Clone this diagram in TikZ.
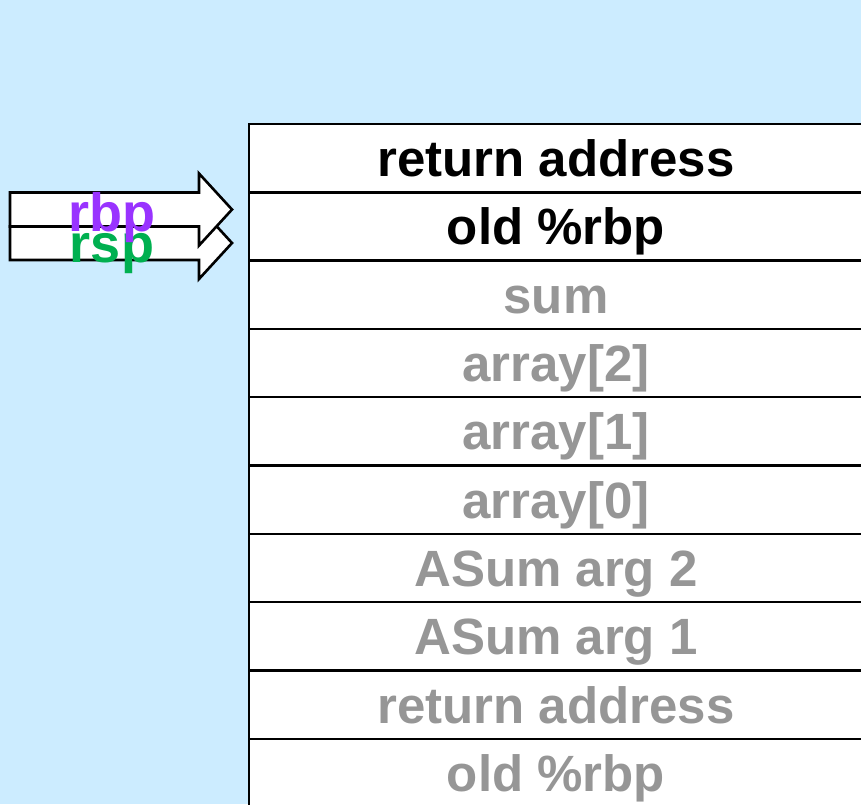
\documentclass[tikz,border=0pt]{standalone}
\usepackage{fontspec}
\setmainfont{Liberation Sans}
\usetikzlibrary{positioning}
\definecolor{bgblue}{RGB}{204,236,255}
\definecolor{usedgray}{RGB}{150,150,150}
\definecolor{rbpcol}{RGB}{153,51,255}
\definecolor{rspcol}{RGB}{0,176,80}
\tikzset{
  slot/.style={draw, line width=2.4pt, fill=white, anchor=north west, outer sep=0pt, inner sep=0pt,
    minimum width=614pt, minimum height=68.3pt, text height=37pt, text depth=0pt,
    font=\fontsize{51}{51}\selectfont\bfseries},
  ptr/.style={draw, line width=2.6pt, fill=white, line join=miter},
  reg/.style={anchor=base, inner sep=0pt, font=\fontsize{54}{54}\selectfont\bfseries}
}

\begin{document}
\begin{tikzpicture}[x=1pt,y=-1pt]
  % background
  \fill[bgblue] (0,0) rectangle (861,804);
  \useasboundingbox (0,0) rectangle (861,804);
  % stack slots
  \foreach \i/\txt/\col in {0/return address/black, 1/old \%rbp/black, 2/sum/usedgray,
      3/array[2]/usedgray, 4/array[1]/usedgray, 5/array[0]/usedgray, 6/ASum arg 2/usedgray,
      7/ASum arg 1/usedgray, 8/return address/usedgray, 9/old \%rbp/usedgray}
    \node[slot, text=\col] (slot\i) at (249,124+68.3*\i) {\txt};
  % rsp pointer (behind)
  \draw[ptr] (10,226.5) -- (199,226.5) -- (199,207) -- (232,243) -- (199,279) -- (199,260) -- (10,260) -- cycle;
  % rbp pointer
  \draw[ptr] (10,192.5) -- (199,192.5) -- (199,173.5) -- (232,209.5) -- (199,245.5) -- (199,226.5) -- (10,226.5) -- cycle;
  \node[reg, text=rspcol] (rsp) at (112,262) {rsp};
  \node[reg, text=rbpcol] (rbp) at (112,231) {rbp};
\end{tikzpicture}
\end{document}
